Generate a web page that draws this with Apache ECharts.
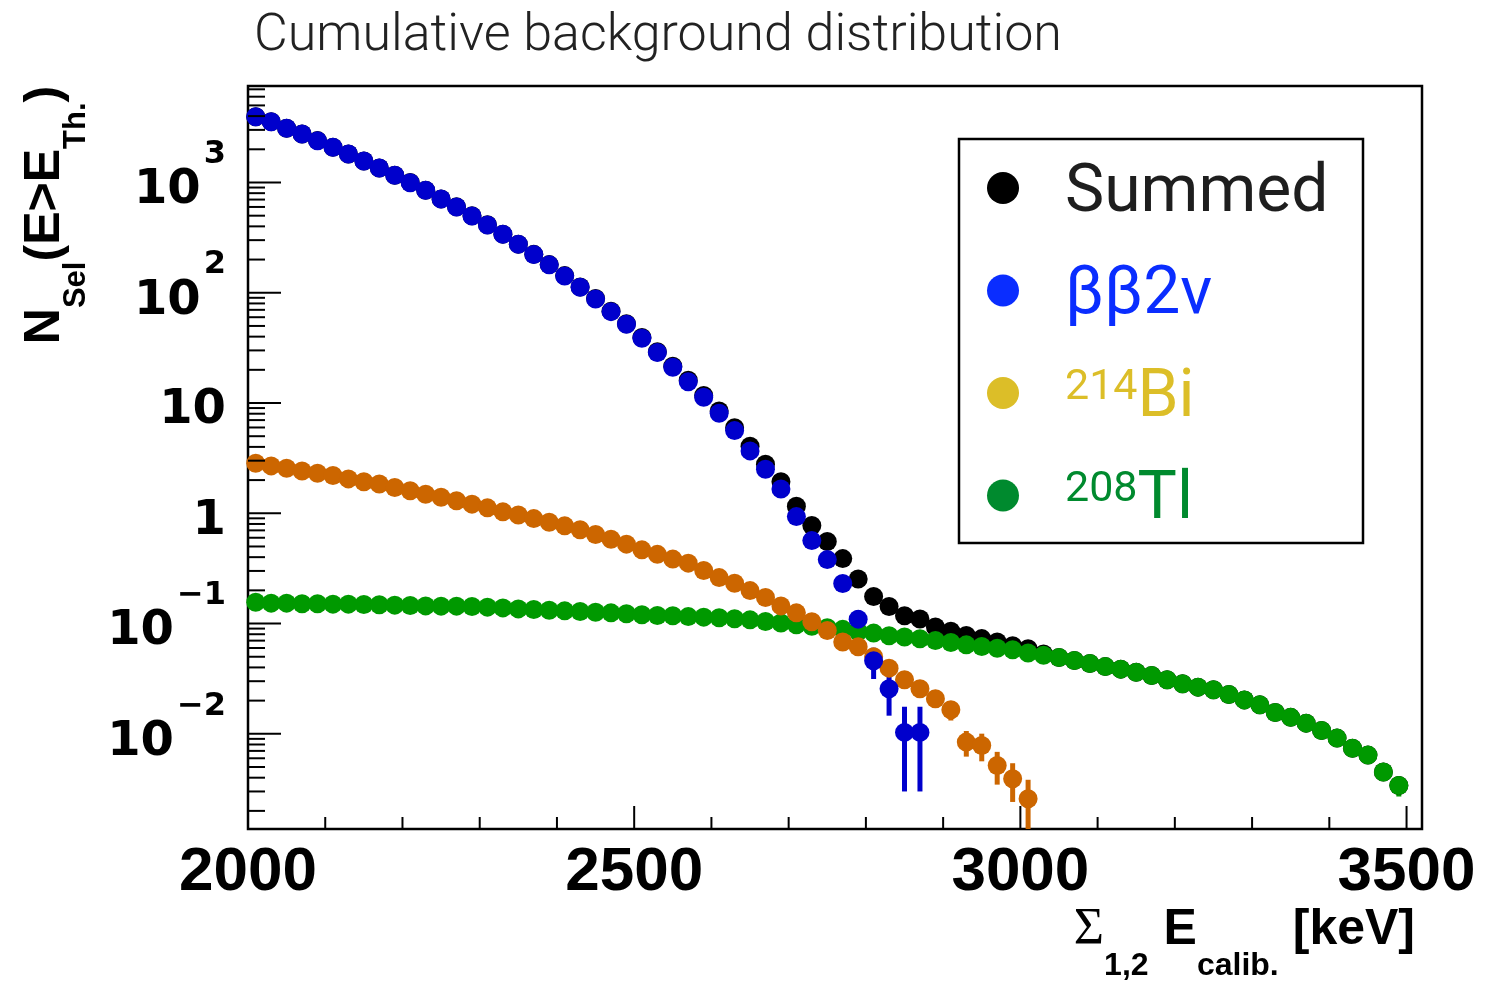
<!DOCTYPE html>
<html>
<head>
<meta charset="utf-8">
<title>Cumulative background distribution</title>
<script src="https://cdn.jsdelivr.net/npm/echarts@6/dist/echarts.min.js"></script>
<style>
  html, body { margin: 0; padding: 0; background: #ffffff; }
  #chart { width: 1493px; height: 985px; }
</style>
</head>
<body>
<div id="chart"></div>
<script>
// Bin centres of the summed-energy histogram [keV]
const energies = [2010, 2030, 2050, 2070, 2090, 2110, 2130, 2150, 2170, 2190,
  2210, 2230, 2250, 2270, 2290, 2310, 2330, 2350, 2370, 2390,
  2410, 2430, 2450, 2470, 2490, 2510, 2530, 2550, 2570, 2590,
  2610, 2630, 2650, 2670, 2690, 2710, 2730, 2750, 2770, 2790,
  2810, 2830, 2850, 2870, 2890, 2910, 2930, 2950, 2970, 2990,
  3010, 3030, 3050, 3070, 3090, 3110, 3130, 3150, 3170, 3190,
  3210, 3230, 3250, 3270, 3290, 3310, 3330, 3350, 3370, 3390,
  3410, 3430, 3450, 3470, 3490];

// Cumulative counts N(E > E_Th) per background component
const summed = [3953, 3563, 3103, 2753, 2397, 2087, 1814, 1568, 1355, 1164,
  998, 851, 710, 601, 498, 413, 340, 276, 223, 180,
  143, 113, 88.7, 68.1, 52.4, 39.3, 29.2, 21.6, 16.1, 11.7,
  8.47, 5.98, 4.05, 2.79, 1.93, 1.16, 0.775, 0.554, 0.388, 0.254,
  0.176, 0.1426, 0.1175, 0.110, 0.093, 0.085, 0.078, 0.073, 0.068, 0.063,
  0.059, 0.0530, 0.0492, 0.0462, 0.0434, 0.0407, 0.0386, 0.0362, 0.0338, 0.0309,
  0.0284, 0.0265, 0.0251, 0.0227, 0.0203, 0.0183, 0.0156, 0.0141, 0.0125, 0.0107,
  0.00914, 0.00741, 0.00641, 0.00450, 0.00340];

const bb2nu = [3950, 3560, 3100, 2750, 2395, 2085, 1812, 1566, 1353, 1162,
  996, 849, 708, 599, 497, 412, 339, 275, 222, 179,
  142, 112, 87.9, 67.4, 51.8, 38.7, 28.7, 21.1, 15.6, 11.3,
  8.09, 5.62, 3.68, 2.51, 1.66, 0.933, 0.565, 0.380, 0.231, 0.1096,
  0.0459, 0.0256, 0.0103, 0.0103];

const bi214 = [2.84, 2.69, 2.56, 2.42, 2.31, 2.20, 2.05, 1.93, 1.84, 1.71,
  1.60, 1.49, 1.40, 1.30, 1.21, 1.12, 1.03, 0.966, 0.895, 0.830,
  0.769, 0.708, 0.641, 0.582, 0.525, 0.466, 0.424, 0.384, 0.353, 0.303,
  0.261, 0.232, 0.199, 0.172, 0.1446, 0.125, 0.104, 0.0865, 0.0680, 0.0615,
  0.0499, 0.0394, 0.0309, 0.0256, 0.0208, 0.0165, 0.00841, 0.00783, 0.00516, 0.00391,
  0.00258];

const tl208 = [0.1563, 0.1531, 0.1531, 0.1510, 0.1510, 0.1500, 0.1500, 0.1487, 0.1479, 0.1469,
  0.1456, 0.1446, 0.1438, 0.1438, 0.1426, 0.1409, 0.1387, 0.1358, 0.1339, 0.1321,
  0.1303, 0.1285, 0.1268, 0.1250, 0.1225, 0.1200, 0.1183, 0.1175, 0.1156, 0.1143,
  0.1127, 0.1104, 0.1080, 0.1045, 0.1012, 0.0975, 0.0945, 0.0917, 0.0886, 0.0847,
  0.0819, 0.0774, 0.0754, 0.0727, 0.0701, 0.0673, 0.0641, 0.0619, 0.0596, 0.0578,
  0.0540, 0.0515, 0.0492, 0.0462, 0.0434, 0.0407, 0.0386, 0.0362, 0.0338, 0.0309,
  0.0284, 0.0265, 0.0251, 0.0227, 0.0203, 0.0183, 0.0156, 0.0141, 0.0125, 0.0107,
  0.00914, 0.00741, 0.00641, 0.00450, 0.00340];

// Statistical uncertainties large enough to show beyond the markers: [energy, error]
const bb2nuErr = [[2790, 0.023], [2810, 0.0145], [2830, 0.011], [2850, 0.0073], [2870, 0.0073]];
const bi214Err = [[2910, 0.0033], [2930, 0.0022], [2950, 0.0022], [2970, 0.0017], [2990, 0.0015], [3010, 0.00125]];
const tl208Err = [[3470, 0.0004], [3490, 0.0007]];

// Axis ranges and ticks
const X_MIN = 2000, X_MAX = 3520;
const Y_MIN = 0.00137, Y_MAX = 7500;
const xMajorTicks = [2000, 2500, 3000, 3500];
const xMinorTicks = [2100, 2200, 2300, 2400, 2600, 2700, 2800, 2900, 3100, 3200, 3300, 3400];
const xTickLabels = ['2000', '2500', '3000', '3500'];
const yMajorTicks = [0.01, 0.1, 1, 10, 100, 1000];
const yMinorTicks = [0.002, 0.003, 0.004, 0.005, 0.006, 0.007, 0.008, 0.009,
  0.02, 0.03, 0.04, 0.05, 0.06, 0.07, 0.08, 0.09,
  0.2, 0.3, 0.4, 0.5, 0.6, 0.7, 0.8, 0.9,
  2, 3, 4, 5, 6, 7, 8, 9,
  20, 30, 40, 50, 60, 70, 80, 90,
  200, 300, 400, 500, 600, 700, 800, 900,
  2000, 3000, 4000, 5000, 6000, 7000];
const yLabelBase = ['10', '10', '1', '10', '10', '10'];
const yLabelExp = ['−2', '−1', '', '', '2', '3'];

const chart = echarts.init(document.getElementById('chart'), null, { renderer: 'canvas' });

const pairs = (vals) => vals.map((v, i) => [energies[i], v]);
const errData = (vals, errs) => errs.map(([e, err]) => [e, vals[energies.indexOf(e)], err]);

function errorBarSeries(vals, errs, color) {
  return {
    type: 'custom',
    data: errData(vals, errs),
    silent: true,
    renderItem: (params, api) => {
      const x = api.value(0), y = api.value(1), e = api.value(2);
      const top = api.coord([x, y + e]);
      const bot = api.coord([x, Math.max(y - e, Y_MIN)]);
      return { type: 'line', shape: { x1: top[0], y1: top[1], x2: bot[0], y2: bot[1] },
               style: { stroke: color, lineWidth: 5 } };
    }
  };
}

function tickSeries(data, len, vertical) {
  return {
    type: 'custom',
    data: data,
    silent: true,
    z: 5,
    renderItem: (params, api) => {
      const p = api.coord([api.value(0), api.value(1)]);
      const shape = vertical
        ? { x1: p[0], y1: p[1], x2: p[0], y2: p[1] - len }
        : { x1: p[0], y1: p[1], x2: p[0] + len, y2: p[1] };
      return { type: 'line', shape: shape, style: { stroke: '#000', lineWidth: 2 } };
    }
  };
}

function scatterSeries(name, vals, color) {
  return {
    name: name, type: 'scatter', data: pairs(vals),
    symbol: 'circle', symbolSize: 19,
    itemStyle: { color: color, opacity: 1 },
    emphasis: { disabled: true }
  };
}

const axisFont = 'Liberation Sans, Arial, sans-serif';
const labelFont = 'DejaVu Sans, sans-serif';
const lightFont = 'Roboto, Liberation Sans, sans-serif';

// legend text: regular weight, glyphs pushed slightly below the marker centre
const legendMain = (color) => ({ fontFamily: lightFont, fontWeight: 400, fontSize: 66, lineHeight: 64,
                                 padding: [12, 0, 0, 0], color: color });
const legendSup = (color) => ({ fontFamily: lightFont, fontWeight: 400, fontSize: 43, lineHeight: 42,
                                padding: [12, 0, 22, 0], color: color });

const option = {
  animation: false,
  backgroundColor: '#ffffff',
  title: {
    text: 'Cumulative background distribution',
    left: 254, top: 11, padding: 0,
    textStyle: { fontFamily: lightFont, fontWeight: 300, fontSize: 52, lineHeight: 52, color: '#222222' }
  },
  grid: { left: 248, top: 86, width: 1174, height: 743, show: true,
          borderColor: '#000', borderWidth: 2.5, backgroundColor: 'transparent' },
  xAxis: {
    type: 'value', min: X_MIN, max: X_MAX, interval: 500,
    axisLine: { show: false }, axisTick: { show: false }, splitLine: { show: false },
    axisLabel: {
      margin: 14, fontFamily: axisFont, fontWeight: 'bold', fontSize: 62, lineHeight: 60, color: '#000',
      showMaxLabel: true,
      formatter: (v) => xTickLabels.includes(String(v)) ? String(v) : ''
    }
  },
  yAxis: {
    type: 'log', logBase: 10, min: Y_MIN, max: Y_MAX,
    axisLine: { show: false }, axisTick: { show: false }, splitLine: { show: false },
    axisLabel: { show: false }
  },
  legend: {
    orient: 'vertical', left: 987, top: 149, padding: 0,
    itemWidth: 32, itemHeight: 32, itemGap: 24.5, icon: 'circle', selectedMode: false,
    data: [
      { name: 'Summed', itemStyle: { color: '#000000' } },
      { name: 'ββ2ν', itemStyle: { color: '#0a2dff' } },
      { name: '214Bi', itemStyle: { color: '#dcbe28' } },
      { name: '208Tl', itemStyle: { color: '#008a2e' } }
    ],
    formatter: (name) => {
      if (name === 'Summed') return '{g| }{sum|Summed}';
      if (name === 'ββ2ν') return '{g| }{bb|ββ2ν}';
      if (name === '214Bi') return '{g| }{bis|214}{bi|Bi}';
      return '{g| }{tls|208}{tl|Tl}';
    },
    textStyle: {
      fontFamily: lightFont,
      rich: {
        g: { width: 41, fontSize: 10, lineHeight: 64, padding: [12, 0, 0, 0] },
        sum: legendMain('#1e1e1e'),
        bb: legendMain('#0a2dff'),
        bis: legendSup('#dcbe28'),
        bi: legendMain('#dcbe28'),
        tls: legendSup('#008a2e'),
        tl: legendMain('#008a2e')
      }
    }
  },
  graphic: [
    { type: 'rect', z: 10, shape: { x: 959, y: 139, width: 404, height: 404 },
      style: { fill: 'none', stroke: '#000', lineWidth: 2.5 } },
    { type: 'text', x: 56, y: 215, rotation: Math.PI / 2,
      style: {
        text: '{m|N}{s|Sel}{m|(E>E}{s|Th.}{m|)}',
        align: 'center', verticalAlign: 'middle', fill: '#000',
        rich: {
          m: { fontFamily: axisFont, fontWeight: 'bold', fontSize: 50, lineHeight: 50, padding: [0, 0, 21, 0], fill: '#000' },
          s: { fontFamily: axisFont, fontWeight: 'bold', fontSize: 31, lineHeight: 31, padding: [40, 0, 0, 0], fill: '#000' }
        }
      } },
    { type: 'text', x: 1415, y: 919,
      style: {
        text: '{sig|Σ}{s|1,2}{e|E}{s|calib.}{k|[keV]}',
        align: 'right', verticalAlign: 'top', fill: '#000',
        rich: {
          sig: { fontFamily: 'Liberation Serif, serif', fontSize: 52, lineHeight: 50, padding: [0, 0, 27, 0], fill: '#000' },
          s: { fontFamily: axisFont, fontWeight: 'bold', fontSize: 32, lineHeight: 32, padding: [45, 0, 0, 0], fill: '#000' },
          e: { fontFamily: axisFont, fontWeight: 'bold', fontSize: 50, lineHeight: 50, padding: [0, 0, 27, 15], fill: '#000' },
          k: { fontFamily: axisFont, fontWeight: 'bold', fontSize: 50, lineHeight: 50, padding: [0, 0, 27, 14], fill: '#000' }
        }
      } }
  ],
  series: [
    scatterSeries('Summed', summed, '#000000'),
    errorBarSeries(tl208, tl208Err, '#009900'),
    scatterSeries('208Tl', tl208, '#009900'),
    errorBarSeries(bi214, bi214Err, '#cc6600'),
    scatterSeries('214Bi', bi214, '#cc6600'),
    errorBarSeries(bb2nu, bb2nuErr, '#0000cc'),
    scatterSeries('ββ2ν', bb2nu, '#0000cc'),
    // axis ticks, drawn inward from the frame
    tickSeries(yMajorTicks.map(v => [X_MIN, v]), 33, false),
    tickSeries(yMinorTicks.map(v => [X_MIN, v]), 17, false),
    tickSeries(xMajorTicks.map(v => [v, Y_MIN]), 23, true),
    tickSeries(xMinorTicks.map(v => [v, Y_MIN]), 12, true),
    // log-axis labels with superscript exponents
    {
      type: 'custom', silent: true, z: 5,
      data: yMajorTicks.map(v => [X_MIN, v]),
      renderItem: (params, api) => {
        const p = api.coord([api.value(0), api.value(1)]);
        const i = params.dataIndex;
        const exp = yLabelExp[i];
        const text = exp ? '{m|' + yLabelBase[i] + '}{s|' + exp + '}' : '{n|' + yLabelBase[i] + '}';
        return {
          type: 'text', x: p[0] - 22, y: exp ? p[1] - 5.6 : p[1] + 8,
          style: {
            text: text, align: 'right', verticalAlign: 'middle', fill: '#000',
            rich: {
              m: { fontFamily: labelFont, fontWeight: 'bold', fontSize: 48, lineHeight: 48, padding: [28, 0, 0, 0], fill: '#000' },
              s: { fontFamily: labelFont, fontWeight: 'bold', fontSize: 32, lineHeight: 32, padding: [0, 0, 44, 3], fill: '#000' },
              n: { fontFamily: labelFont, fontWeight: 'bold', fontSize: 48, lineHeight: 48, fill: '#000' }
            }
          }
        };
      }
    }
  ]
};

chart.setOption(option);
</script>
</body>
</html>
